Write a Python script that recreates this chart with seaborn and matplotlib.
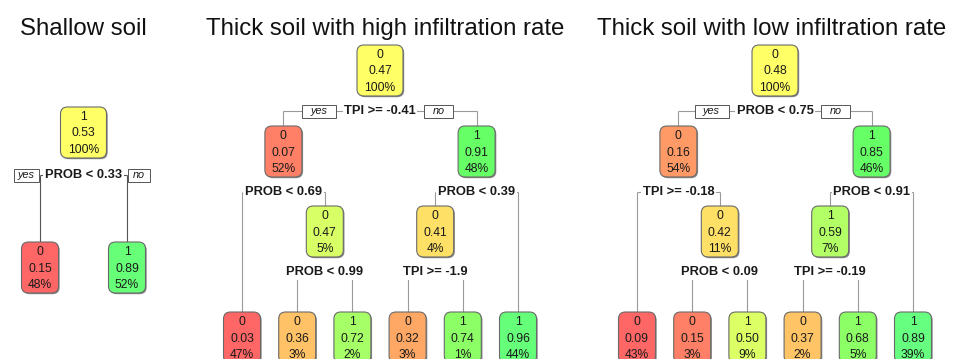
import matplotlib
matplotlib.use("Agg")
import matplotlib.pyplot as plt
from matplotlib.patches import FancyBboxPatch, Rectangle
import seaborn as sns

# ---------------------------------------------------------------- data
titles = ["Shallow soil",
          "Thick soil with high infiltration rate",
          "Thick soil with low infiltration rate"]

# Nodes are listed in preorder (node, left subtree, right subtree);
# a split of None marks a leaf.
shallow_class = [1, 0, 1]
shallow_prob = [0.53, 0.15, 0.89]
shallow_pct = [100, 48, 52]
shallow_split = ["PROB < 0.33", None, None]

high_class = [0, 0, 0, 0, 0, 1, 1, 0, 0, 1, 1]
high_prob = [0.47, 0.07, 0.03, 0.47, 0.36, 0.72, 0.91, 0.41, 0.32, 0.74, 0.96]
high_pct = [100, 52, 47, 5, 3, 2, 48, 4, 3, 1, 44]
high_split = ["TPI >= -0.41", "PROB < 0.69", None, "PROB < 0.99", None, None,
              "PROB < 0.39", "TPI >= -1.9", None, None, None]

low_class = [0, 0, 0, 0, 0, 1, 1, 1, 0, 1, 1]
low_prob = [0.48, 0.16, 0.09, 0.42, 0.15, 0.50, 0.85, 0.59, 0.37, 0.68, 0.89]
low_pct = [100, 54, 43, 11, 3, 9, 46, 7, 2, 5, 39]
low_split = ["PROB < 0.75", "TPI >= -0.18", None, "PROB < 0.09", None, None,
             "PROB < 0.91", "TPI >= -0.19", None, None, None]

# ---------------------------------------------------------------- styles
shallow_fill = ["#FFFF66", "#FF6666", "#66FF77"]
high_fill = ["#FFFF66", "#FF8066", "#FF6666", "#D9FF66", "#FFC266", "#A6FF66",
             "#66FF66", "#FFE066", "#FFA866", "#8CFF66", "#66FF7A"]
low_fill = ["#FFFF66", "#FF9966", "#FF6666", "#FFE066", "#FF8066", "#DDFF66",
            "#66FF66", "#B3FF66", "#FFC466", "#8CFF66", "#66FF80"]

trees = [
    dict(cls=shallow_class, prob=shallow_prob, pct=shallow_pct, split=shallow_split,
         fill=shallow_fill, title_x=83, leaf_x0=40, leaf_dx=87,
         tops=[107], leaf_top=242, label_gap=17, line="#555555",
         yes_w=25, no_w=22, tag_gap=6),
    dict(cls=high_class, prob=high_prob, pct=high_pct, split=high_split,
         fill=high_fill, title_x=385, leaf_x0=242, leaf_dx=55.2,
         tops=[45, 126, 206], leaf_top=312, label_gap=15, line="#9a9a9a",
         yes_w=34, no_w=29, tag_gap=8),
    dict(cls=low_class, prob=low_prob, pct=low_pct, split=low_split,
         fill=low_fill, title_x=772, leaf_x0=637, leaf_dx=55.2,
         tops=[45, 126, 206], leaf_top=312, label_gap=15, line="#9a9a9a",
         yes_w=34, no_w=29, tag_gap=8),
]

W, H = 958, 359
BOX_H = 51
TXT = "#1a1a1a"

sns.set_theme(style="white")
plt.rcParams["font.family"] = ["Liberation Sans", "DejaVu Sans"]

fig = plt.figure(figsize=(W / 100, H / 100), dpi=100)
ax = fig.add_axes([0, 0, 1, 1])
ax.set_xlim(0, W)
ax.set_ylim(H, 0)
ax.axis("off")
fig.canvas.draw()
renderer = fig.canvas.get_renderer()


def build(split, idx=0, depth=0, counter=None):
    """Parse the preorder node list into a nested tree."""
    if counter is None:
        counter = [0]
    node = dict(i=idx, depth=depth, children=[])
    nxt = idx + 1
    if split[idx] is not None:
        left, nxt = build(split, nxt, depth + 1, counter)
        right, nxt = build(split, nxt, depth + 1, counter)
        node["children"] = [left, right]
    else:
        node["leaf"] = counter[0]
        counter[0] += 1
    return node, nxt


def place(node, t):
    """Leaves evenly spaced at the bottom, parents centred above children."""
    if node["children"]:
        for c in node["children"]:
            place(c, t)
        node["x"] = sum(c["x"] for c in node["children"]) / 2
        node["top"] = t["tops"][node["depth"]]
    else:
        node["x"] = t["leaf_x0"] + node["leaf"] * t["leaf_dx"]
        node["top"] = t["leaf_top"]


def walk(node):
    yield node
    for c in node["children"]:
        yield from walk(c)


def draw_box(x, top, w, fill, lines):
    shadow = FancyBboxPatch((x - w / 2 + 1.2, top + 1.2), w, BOX_H,
                            boxstyle="round,pad=0,rounding_size=7",
                            facecolor="#8a8a8a", edgecolor="none", zorder=4)
    box = FancyBboxPatch((x - w / 2, top), w, BOX_H,
                         boxstyle="round,pad=0,rounding_size=7",
                         facecolor=fill, edgecolor="#6a6a6a", linewidth=0.8,
                         zorder=5)
    ax.add_patch(shadow)
    ax.add_patch(box)
    for k, s in enumerate(lines):
        ax.text(x, top + 10 + 16.5 * k, s, ha="center", va="center",
                fontsize=8.7, color=TXT, zorder=6)


for t in trees:
    root, _ = build(t["split"])
    place(root, t)
    ax.text(t["title_x"], 35, titles[trees.index(t)], ha="center",
            va="baseline", fontsize=17.3, color="#111111")

    for node in walk(root):
        i = node["i"]
        pct = f"{t['pct'][i]}%"
        w = 46 if len(pct) > 3 else 37
        draw_box(node["x"], node["top"], w, t["fill"][i],
                 [str(t["cls"][i]), f"{t['prob'][i]:.2f}", pct])
        if not node["children"]:
            continue
        ly = node["top"] + BOX_H + t["label_gap"]
        left, right = node["children"]
        ax.plot([left["x"], right["x"]], [ly, ly], color=t["line"], lw=0.8,
                zorder=1, solid_capstyle="butt")
        for c in (left, right):
            ax.plot([c["x"], c["x"]], [ly, c["top"]], color=t["line"], lw=0.8,
                    zorder=1, solid_capstyle="butt")
        lab = ax.text(node["x"], ly, t["split"][i], ha="center", va="center",
                      fontsize=9.3, fontweight="bold", color=TXT, zorder=3,
                      bbox=dict(boxstyle="square,pad=0.12", facecolor="white",
                                edgecolor="none"))
        if node["depth"] == 0:
            bb = lab.get_window_extent(renderer)
            x0, x1 = bb.x0, bb.x1
            for tag, wid, cx in (("yes", t["yes_w"], x0 - t["tag_gap"] - t["yes_w"] / 2),
                                 ("no", t["no_w"], x1 + t["tag_gap"] + t["no_w"] / 2)):
                ax.add_patch(Rectangle((cx - wid / 2, ly - 6.5), wid, 13,
                                       facecolor="white", edgecolor="#555555",
                                       linewidth=0.7, zorder=3))
                ax.text(cx, ly, tag, ha="center", va="center", fontsize=7.8,
                        fontstyle="italic", color=TXT, zorder=4)

fig.savefig("out.png", dpi=100)
